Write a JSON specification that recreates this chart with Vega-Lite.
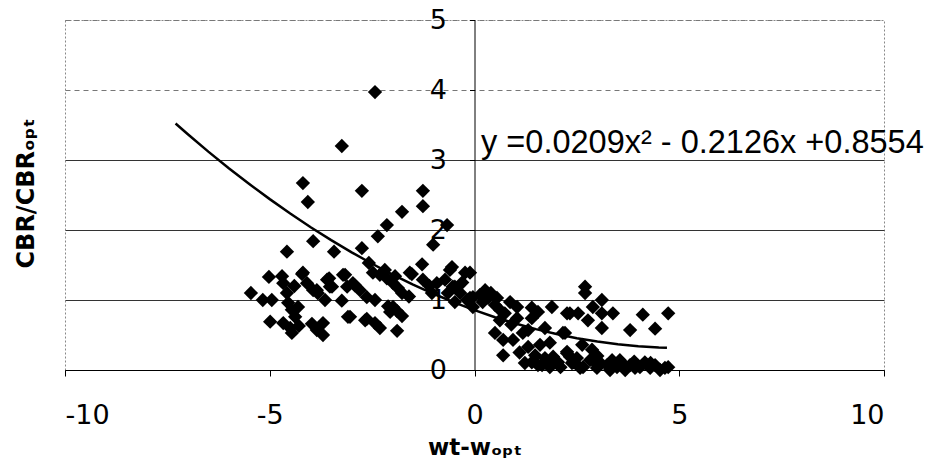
{
  "$schema": "https://vega.github.io/schema/vega-lite/v6.json",
  "width": 819,
  "height": 350,
  "autosize": {"type": "none"},
  "padding": {"left": 65, "top": 20, "right": 45, "bottom": 92},
  "background": "white",
  "config": {
    "view": {"stroke": "#888888", "strokeDash": [2, 2], "strokeWidth": 1},
    "font": "DejaVu Sans"
  },
  "datasets": {
    "pts": [
      {"x": -2.43, "y": 3.97}, {"x": -3.24, "y": 3.2}, {"x": -4.19, "y": 2.67}, {"x": -4.07, "y": 2.4},
      {"x": -2.75, "y": 2.56}, {"x": -1.26, "y": 2.56}, {"x": -1.26, "y": 2.34}, {"x": -1.77, "y": 2.26},
      {"x": -2.14, "y": 2.07}, {"x": -0.67, "y": 2.07}, {"x": -1.01, "y": 1.79}, {"x": -2.36, "y": 1.91},
      {"x": -2.75, "y": 1.74}, {"x": -3.94, "y": 1.84}, {"x": -4.58, "y": 1.69}, {"x": -3.43, "y": 1.69},
      {"x": -5.02, "y": 1.33}, {"x": -4.7, "y": 1.34}, {"x": -4.67, "y": 1.24}, {"x": -4.21, "y": 1.37},
      {"x": -4.09, "y": 1.24}, {"x": -3.94, "y": 1.14}, {"x": -3.83, "y": 1.1}, {"x": -3.55, "y": 1.31},
      {"x": -3.53, "y": 1.19}, {"x": -3.16, "y": 1.36}, {"x": -3.11, "y": 1.19}, {"x": -2.92, "y": 1.21},
      {"x": -5.46, "y": 1.1}, {"x": -5.17, "y": 1.0}, {"x": -4.95, "y": 1.0}, {"x": -4.58, "y": 1.1},
      {"x": -4.55, "y": 0.96}, {"x": -4.46, "y": 0.86}, {"x": -4.31, "y": 0.9}, {"x": -4.38, "y": 0.76},
      {"x": -3.65, "y": 1.0}, {"x": -3.24, "y": 0.99}, {"x": -3.09, "y": 0.76}, {"x": -4.99, "y": 0.69},
      {"x": -4.67, "y": 0.67}, {"x": -4.5, "y": 0.6}, {"x": -4.29, "y": 0.63}, {"x": -3.97, "y": 0.66},
      {"x": -3.7, "y": 0.67}, {"x": -3.7, "y": 0.5}, {"x": -4.46, "y": 0.53}, {"x": -4.19, "y": 1.39},
      {"x": -3.85, "y": 1.14}, {"x": -3.6, "y": 1.29}, {"x": -3.48, "y": 1.19}, {"x": -3.21, "y": 1.36},
      {"x": -2.97, "y": 1.24}, {"x": -2.8, "y": 1.14}, {"x": -2.63, "y": 1.04}, {"x": -2.43, "y": 1.0},
      {"x": -3.04, "y": 0.76}, {"x": -2.67, "y": 0.71}, {"x": -2.43, "y": 0.67}, {"x": -2.31, "y": 0.6},
      {"x": -2.63, "y": 0.73}, {"x": -1.89, "y": 0.56}, {"x": -1.89, "y": 0.84}, {"x": -2.11, "y": 0.91},
      {"x": -1.77, "y": 0.77}, {"x": -1.99, "y": 0.9}, {"x": -2.06, "y": 0.83}, {"x": -3.85, "y": 0.57},
      {"x": -1.53, "y": 1.37}, {"x": -1.94, "y": 1.34}, {"x": -1.28, "y": 1.51},
      {"x": -2.58, "y": 1.53}, {"x": -2.48, "y": 1.39}, {"x": -2.31, "y": 1.36}, {"x": -2.14, "y": 1.31},
      {"x": -1.99, "y": 1.24}, {"x": -1.87, "y": 1.17}, {"x": -1.77, "y": 1.1}, {"x": -1.58, "y": 1.39},
      {"x": -1.26, "y": 1.29}, {"x": -0.92, "y": 1.24}, {"x": -0.6, "y": 1.43}, {"x": -0.23, "y": 1.39},
      {"x": -0.53, "y": 1.19}, {"x": -0.35, "y": 1.1}, {"x": -0.18, "y": 1.0}, {"x": -0.04, "y": 0.9},
      {"x": -0.55, "y": 1.47}, {"x": -0.72, "y": 1.29}, {"x": -0.48, "y": 1.19}, {"x": -0.11, "y": 1.03},
      {"x": -0.65, "y": 1.1}, {"x": -0.48, "y": 0.97}, {"x": -1.04, "y": 1.1}, {"x": -2.19, "y": 1.43},
      {"x": -0.11, "y": 1.39}, {"x": 0.13, "y": 1.07}, {"x": 0.33, "y": 1.03}, {"x": 0.55, "y": 1.03},
      {"x": 0.5, "y": 0.93}, {"x": -0.04, "y": 1.04}, {"x": 0.62, "y": 0.86}, {"x": 0.87, "y": 0.97},
      {"x": 1.04, "y": 0.9}, {"x": 1.4, "y": 0.89}, {"x": 1.55, "y": 0.83}, {"x": 1.89, "y": 0.9},
      {"x": 2.33, "y": 0.81}, {"x": 1.04, "y": 0.74}, {"x": 1.4, "y": 0.74}, {"x": 0.74, "y": 0.81},
      {"x": 0.62, "y": 0.71}, {"x": 0.5, "y": 0.53}, {"x": 0.7, "y": 0.43}, {"x": 0.94, "y": 0.43},
      {"x": 1.18, "y": 0.53}, {"x": 1.31, "y": 0.57}, {"x": 1.72, "y": 0.6}, {"x": 2.16, "y": 0.53},
      {"x": 1.31, "y": 0.33}, {"x": 1.6, "y": 0.36}, {"x": 1.84, "y": 0.39}, {"x": 0.7, "y": 0.21},
      {"x": 1.23, "y": 0.1}, {"x": 1.4, "y": 0.11}, {"x": 1.65, "y": 0.07}, {"x": 1.84, "y": 0.1},
      {"x": 2.04, "y": 0.11}, {"x": 2.26, "y": 0.24}, {"x": 1.72, "y": 0.17}, {"x": 1.48, "y": 0.21},
      {"x": 2.41, "y": 0.11}, {"x": 0.26, "y": 1.14},
      {"x": 2.7, "y": 1.19}, {"x": 2.7, "y": 1.1}, {"x": 3.11, "y": 1.0}, {"x": 2.26, "y": 0.81},
      {"x": 2.53, "y": 0.81}, {"x": 2.77, "y": 0.71}, {"x": 2.89, "y": 0.9}, {"x": 3.11, "y": 0.81},
      {"x": 3.38, "y": 0.81}, {"x": 4.11, "y": 0.79}, {"x": 4.73, "y": 0.81}, {"x": 3.11, "y": 0.6},
      {"x": 3.8, "y": 0.57}, {"x": 4.41, "y": 0.59}, {"x": 2.21, "y": 0.53}, {"x": 2.63, "y": 0.36},
      {"x": 2.87, "y": 0.29}, {"x": 2.26, "y": 0.26}, {"x": 2.38, "y": 0.1}, {"x": 2.65, "y": 0.04},
      {"x": 2.99, "y": 0.03}, {"x": 3.24, "y": 0.07}, {"x": 3.55, "y": 0.14}, {"x": 3.48, "y": 0.04},
      {"x": 3.8, "y": 0.07}, {"x": 4.04, "y": 0.04}, {"x": 4.29, "y": 0.03}, {"x": 4.53, "y": 0.0},
      {"x": 4.73, "y": 0.04}, {"x": 3.31, "y": 0.0}, {"x": 3.68, "y": 0.0}, {"x": 3.06, "y": 0.11},
      {"x": 2.82, "y": 0.14}, {"x": 2.5, "y": 0.17}, {"x": 2.01, "y": 0.1}, {"x": 1.84, "y": 0.04},
      {"x": 1.55, "y": 0.07}, {"x": 1.92, "y": 0.19}, {"x": 2.33, "y": 0.19}, {"x": 2.58, "y": 0.03},
      {"x": 2.94, "y": 0.11}, {"x": 3.36, "y": 0.14}, {"x": 3.6, "y": 0.1}, {"x": 4.16, "y": 0.11},
      {"x": 3.92, "y": 0.03}, {"x": 4.41, "y": 0.07}, {"x": 4.65, "y": 0.03},
      {"x": 0.2, "y": 0.97}, {"x": 0.4, "y": 1.1}, {"x": 0.9, "y": 0.65}, {"x": 1.1, "y": 0.25},
      {"x": 2.1, "y": 0.04}, {"x": 3.0, "y": 0.2}, {"x": 3.9, "y": 0.12}, {"x": 4.3, "y": 0.1},
      {"x": -0.3, "y": 1.25}, {"x": -1.1, "y": 1.2}, {"x": -1.6, "y": 1.05}, {"x": -4.4, "y": 1.2}
    ],
    "fit": [
      {"x": -7.3, "y": 3.521}, {"x": -7.0, "y": 3.368}, {"x": -6.5, "y": 3.120}, {"x": -6.0, "y": 2.883},
      {"x": -5.5, "y": 2.657}, {"x": -5.0, "y": 2.441}, {"x": -4.5, "y": 2.235}, {"x": -4.0, "y": 2.040},
      {"x": -3.5, "y": 1.856}, {"x": -3.0, "y": 1.681}, {"x": -2.5, "y": 1.518}, {"x": -2.0, "y": 1.364},
      {"x": -1.5, "y": 1.221}, {"x": -1.0, "y": 1.089}, {"x": -0.5, "y": 0.967}, {"x": 0.0, "y": 0.855},
      {"x": 0.5, "y": 0.754}, {"x": 1.0, "y": 0.664}, {"x": 1.5, "y": 0.584}, {"x": 2.0, "y": 0.514},
      {"x": 2.5, "y": 0.455}, {"x": 3.0, "y": 0.406}, {"x": 3.5, "y": 0.367}, {"x": 4.0, "y": 0.339},
      {"x": 4.5, "y": 0.322}, {"x": 4.7, "y": 0.318}
    ],
    "eq": [
      {"x": 0.16, "y": 3.1, "label": "y =0.0209x² - 0.2126x +0.8554"}
    ]
  },
  "layer": [
    {
      "data": {"name": "pts"},
      "mark": {"type": "point", "shape": "diamond", "filled": true, "color": "black", "opacity": 1, "size": 205},
      "encoding": {
        "x": {
          "field": "x", "type": "quantitative",
          "scale": {"domain": [-10, 10], "nice": false, "zero": false},
          "axis": {
            "values": [-10, -5, 0, 5, 10],
            "labelExpr": "'' + datum.value",
            "grid": false,
            "domainColor": "black",
            "tickColor": "black",
            "tickSize": 6,
            "labelFont": "DejaVu Sans",
            "labelFontSize": 27,
            "labelColor": "black",
            "labelPadding": 26,
            "title": "wt-wₒₚₜ",
            "titleFont": "DejaVu Sans",
            "titleFontWeight": "bold",
            "titleFontSize": 23,
            "titleColor": "black",
            "titleY": 66
          }
        },
        "y": {
          "field": "y", "type": "quantitative",
          "scale": {"domain": [0, 5], "nice": false},
          "axis": {
            "values": [0, 1, 2, 3, 4, 5],
            "labelExpr": "'' + datum.value",
            "offset": -409.5,
            "grid": true,
            "gridColor": {"condition": {"test": "datum.value >= 4", "value": "#777777"}, "value": "#333333"},
            "gridDash": {"condition": {"test": "datum.value >= 4", "value": [5, 4]}, "value": []},
            "gridWidth": 1,
            "domainColor": "black",
            "tickColor": "black",
            "tickSize": 5,
            "labelFont": "DejaVu Sans",
            "labelFontSize": 27,
            "labelColor": "black",
            "labelPadding": 23,
            "title": "CBR/CBRₒₚₜ",
            "titleFont": "DejaVu Sans",
            "titleFontWeight": "bold",
            "titleFontSize": 24,
            "titleColor": "black",
            "titleAngle": -90,
            "titleX": -448,
            "titleY": 173,
            "titleBaseline": "middle",
            "titleAlign": "center"
          }
        }
      }
    },
    {
      "data": {"name": "fit"},
      "mark": {"type": "line", "color": "black", "strokeWidth": 2.5},
      "encoding": {
        "x": {"field": "x", "type": "quantitative"},
        "y": {"field": "y", "type": "quantitative"}
      }
    },
    {
      "data": {"name": "eq"},
      "mark": {"type": "text", "align": "left", "baseline": "alphabetic", "font": "Liberation Sans", "fontSize": 32.5, "color": "black"},
      "encoding": {
        "x": {"field": "x", "type": "quantitative"},
        "y": {"field": "y", "type": "quantitative"},
        "text": {"field": "label"}
      }
    }
  ]
}
